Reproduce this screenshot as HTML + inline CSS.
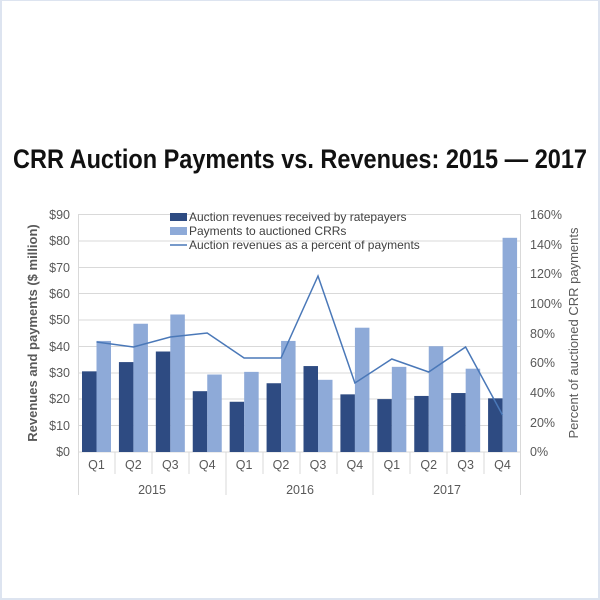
<!DOCTYPE html>
<html><head><style>
html,body{margin:0;padding:0;background:#fff;}
.f{position:absolute;left:0;top:0;width:596px;height:597px;border:2px solid #dde4f0;border-top-width:1px;}
svg{position:absolute;left:0;top:0;}
text{font-family:"Liberation Sans",Arial,sans-serif;}
</style></head><body>
<div class="f"></div>
<svg width="600" height="600" xmlns="http://www.w3.org/2000/svg">
<text x="300" y="168" text-anchor="middle" font-size="27" font-weight="bold" fill="#111" textLength="574" lengthAdjust="spacingAndGlyphs">CRR Auction Payments vs. Revenues: 2015 — 2017</text>
<g stroke="#d9d9d9" stroke-width="1">
<line x1="78" y1="214.5" x2="521" y2="214.5"/>
<line x1="78" y1="241" x2="521" y2="241"/>
<line x1="78" y1="267.5" x2="521" y2="267.5"/>
<line x1="78" y1="293.5" x2="521" y2="293.5"/>
<line x1="78" y1="320" x2="521" y2="320"/>
<line x1="78" y1="346.5" x2="521" y2="346.5"/>
<line x1="78" y1="373" x2="521" y2="373"/>
<line x1="78" y1="399" x2="521" y2="399"/>
<line x1="78" y1="425.5" x2="521" y2="425.5"/>
<line x1="78" y1="452" x2="521" y2="452"/>
<line x1="78.5" y1="214" x2="78.5" y2="495"/>
<line x1="520.5" y1="214" x2="520.5" y2="495"/>
<line x1="226" y1="452" x2="226" y2="495"/>
<line x1="373" y1="452" x2="373" y2="495"/>
<line x1="115" y1="452" x2="115" y2="474"/>
<line x1="152" y1="452" x2="152" y2="474"/>
<line x1="189" y1="452" x2="189" y2="474"/>
<line x1="263" y1="452" x2="263" y2="474"/>
<line x1="300" y1="452" x2="300" y2="474"/>
<line x1="337" y1="452" x2="337" y2="474"/>
<line x1="410" y1="452" x2="410" y2="474"/>
<line x1="447" y1="452" x2="447" y2="474"/>
<line x1="484" y1="452" x2="484" y2="474"/>
</g>
<g fill="#2e4b82">
<rect x="82" y="371.34" width="14.5" height="80.66"/>
<rect x="118.92" y="362.09" width="14.5" height="89.91"/>
<rect x="155.83" y="351.51" width="14.5" height="100.49"/>
<rect x="192.75" y="391.18" width="14.5" height="60.82"/>
<rect x="229.67" y="401.76" width="14.5" height="50.24"/>
<rect x="266.58" y="383.24" width="14.5" height="68.76"/>
<rect x="303.5" y="366.06" width="14.5" height="85.94"/>
<rect x="340.42" y="394.35" width="14.5" height="57.65"/>
<rect x="377.33" y="399.11" width="14.5" height="52.89"/>
<rect x="414.25" y="395.94" width="14.5" height="56.06"/>
<rect x="451.17" y="393.03" width="14.5" height="58.97"/>
<rect x="488.08" y="398.32" width="14.5" height="53.68"/>
</g>
<g fill="#8eaad8">
<rect x="96.5" y="340.93" width="14.5" height="111.07"/>
<rect x="133.42" y="323.74" width="14.5" height="128.26"/>
<rect x="170.33" y="314.49" width="14.5" height="137.51"/>
<rect x="207.25" y="374.52" width="14.5" height="77.48"/>
<rect x="244.17" y="371.87" width="14.5" height="80.13"/>
<rect x="281.08" y="340.93" width="14.5" height="111.07"/>
<rect x="318" y="379.81" width="14.5" height="72.19"/>
<rect x="354.92" y="327.71" width="14.5" height="124.29"/>
<rect x="391.83" y="366.85" width="14.5" height="85.15"/>
<rect x="428.75" y="346.22" width="14.5" height="105.78"/>
<rect x="465.67" y="368.7" width="14.5" height="83.3"/>
<rect x="502.58" y="237.8" width="14.5" height="214.2"/>
</g>
<g font-size="12.5" fill="#595959" text-anchor="end">
<text x="70" y="219">$90</text><text x="70" y="245">$80</text><text x="70" y="272">$70</text><text x="70" y="298">$60</text><text x="70" y="324">$50</text><text x="70" y="351">$40</text><text x="70" y="377">$30</text><text x="70" y="403">$20</text><text x="70" y="430">$10</text><text x="70" y="456">$0</text>
</g>
<g font-size="12.5" fill="#595959" text-anchor="start">
<text x="530" y="219">160%</text><text x="530" y="249">140%</text><text x="530" y="278">120%</text><text x="530" y="308">100%</text><text x="530" y="338">80%</text><text x="530" y="367">60%</text><text x="530" y="397">40%</text><text x="530" y="427">20%</text><text x="530" y="456">0%</text>
</g>
<text transform="translate(37,333) rotate(-90)" text-anchor="middle" font-size="13" font-weight="bold" fill="#595959">Revenues and payments ($ million)</text>
<text transform="translate(578,333) rotate(-90)" text-anchor="middle" font-size="13" fill="#595959">Percent of auctioned CRR payments</text>
<g font-size="12.5" fill="#595959" text-anchor="middle">
<text x="96.5" y="469">Q1</text><text x="133.4" y="469">Q2</text><text x="170.3" y="469">Q3</text><text x="207.2" y="469">Q4</text>
<text x="244.1" y="469">Q1</text><text x="281" y="469">Q2</text><text x="318" y="469">Q3</text><text x="354.9" y="469">Q4</text>
<text x="391.8" y="469">Q1</text><text x="428.7" y="469">Q2</text><text x="465.6" y="469">Q3</text><text x="502.5" y="469">Q4</text>
</g>
<g font-size="12.5" fill="#595959" text-anchor="middle">
<text x="152" y="494">2015</text><text x="300" y="494">2016</text><text x="447" y="494">2017</text>
</g>
<g font-size="12" fill="#404040">
<rect x="170" y="213" width="17" height="8" fill="#2e4b82"/>
<text x="189" y="221">Auction revenues received by ratepayers</text>
<rect x="170" y="227" width="17" height="8" fill="#8eaad8"/>
<text x="189" y="235">Payments to auctioned CRRs</text>
<line x1="170" y1="245" x2="187" y2="245" stroke="#4a78b8" stroke-width="1.5"/>
<text x="189" y="249">Auction revenues as a percent of payments</text>
</g>
<polyline fill="none" stroke="#4a78b8" stroke-width="1.5" points="96.5,342 133.4,347 170.3,337 207.2,333 244.1,358 281,358 318,276 354.9,383 391.8,359 428.7,372 465.6,347 502.5,415"/>
</svg>
</body></html>
